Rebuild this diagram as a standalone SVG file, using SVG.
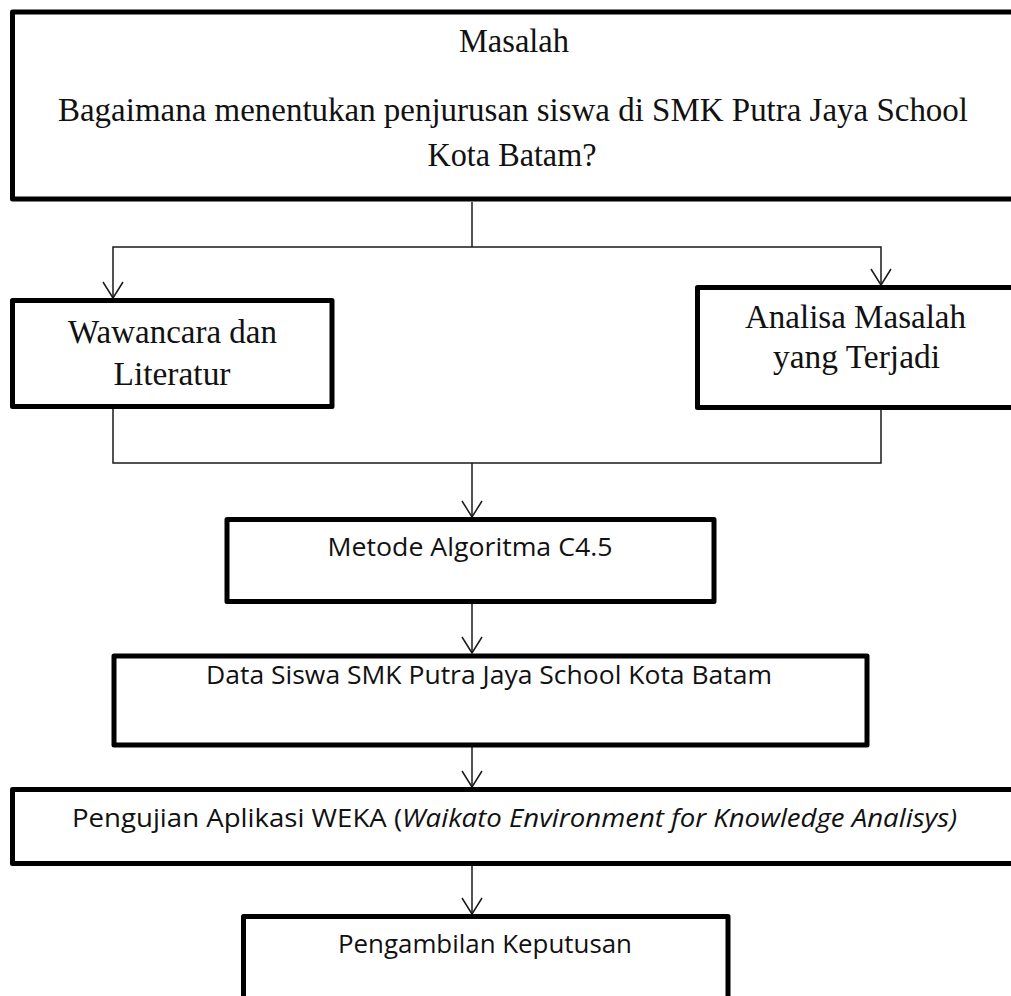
<svg xmlns="http://www.w3.org/2000/svg" width="1011" height="996" viewBox="0 0 1011 996">
<style>
.box{fill:#fff;stroke:#000;stroke-width:5;stroke-linejoin:round}
.serif{font-family:"Liberation Serif","Times New Roman",serif;font-size:33px;fill:#111}
.sans{font-family:"Open Sans","Noto Sans","Liberation Sans",sans-serif;font-size:25px;fill:#111}
.it{font-style:italic}
.con{fill:none;stroke:#1a1a1a;stroke-width:1.5}
</style>
<defs>
<marker id="arr" markerUnits="userSpaceOnUse" markerWidth="20" markerHeight="26" viewBox="-18 -13 20 26" refX="0" refY="0" orient="auto">
<path d="M-16,-10 L0,0 L-16,10" fill="none" stroke="#1a1a1a" stroke-width="1.5"/>
</marker>
</defs>
<rect width="1011" height="996" fill="#fff"/>
<g id="connectors">
<path class="con" d="M472,202 V247"/>
<path class="con" d="M472,247 H113 V298" marker-end="url(#arr)"/>
<path class="con" d="M472,247 H881 V285" marker-end="url(#arr)"/>
<path class="con" d="M113,409 V463 H881 V410"/>
<path class="con" d="M472,463 V517" marker-end="url(#arr)"/>
<path class="con" d="M472,604 V653" marker-end="url(#arr)"/>
<path class="con" d="M472,747 V787" marker-end="url(#arr)"/>
<path class="con" d="M472,866 V914" marker-end="url(#arr)"/>
</g>
<g id="masalah">
<rect class="box" x="12.5" y="12" width="1010" height="187"/>
<text class="serif" x="514" y="52" text-anchor="middle" textLength="110" lengthAdjust="spacingAndGlyphs">Masalah</text>
<text class="serif" x="58" y="121" textLength="910" lengthAdjust="spacingAndGlyphs">Bagaimana menentukan penjurusan siswa di SMK Putra Jaya School</text>
<text class="serif" x="512" y="166" text-anchor="middle" textLength="169" lengthAdjust="spacingAndGlyphs">Kota Batam?</text>
</g>
<g id="wawancara">
<rect class="box" x="12.5" y="300.5" width="319.5" height="106"/>
<text class="serif" x="172.5" y="343" text-anchor="middle" textLength="209" lengthAdjust="spacingAndGlyphs">Wawancara dan</text>
<text class="serif" x="172" y="385" text-anchor="middle" textLength="117" lengthAdjust="spacingAndGlyphs">Literatur</text>
</g>
<g id="analisa">
<rect class="box" x="697.5" y="287.5" width="320" height="120"/>
<text class="serif" x="855.5" y="328" text-anchor="middle" textLength="221" lengthAdjust="spacingAndGlyphs">Analisa Masalah</text>
<text class="serif" x="856.5" y="368" text-anchor="middle" textLength="167" lengthAdjust="spacingAndGlyphs">yang Terjadi</text>
</g>
<g id="metode">
<rect class="box" x="227" y="519.5" width="487" height="82"/>
<text class="sans" x="470" y="556" text-anchor="middle" textLength="285" lengthAdjust="spacingAndGlyphs">Metode Algoritma C4.5</text>
</g>
<g id="data">
<rect class="box" x="114" y="656" width="753" height="89"/>
<text class="sans" x="489" y="684" text-anchor="middle" textLength="566" lengthAdjust="spacingAndGlyphs">Data Siswa SMK Putra Jaya School Kota Batam</text>
</g>
<g id="pengujian">
<rect class="box" x="12.5" y="789.5" width="1005" height="74"/>
<text class="sans" x="72" y="827" textLength="885" lengthAdjust="spacingAndGlyphs">Pengujian Aplikasi WEKA (<tspan class="it">Waikato Environment for Knowledge Analisys)</tspan></text>
</g>
<g id="pengambilan">
<rect class="box" x="243.5" y="916.5" width="484.5" height="100"/>
<text class="sans" x="485" y="953" text-anchor="middle" textLength="294" lengthAdjust="spacingAndGlyphs">Pengambilan Keputusan</text>
</g>
</svg>
